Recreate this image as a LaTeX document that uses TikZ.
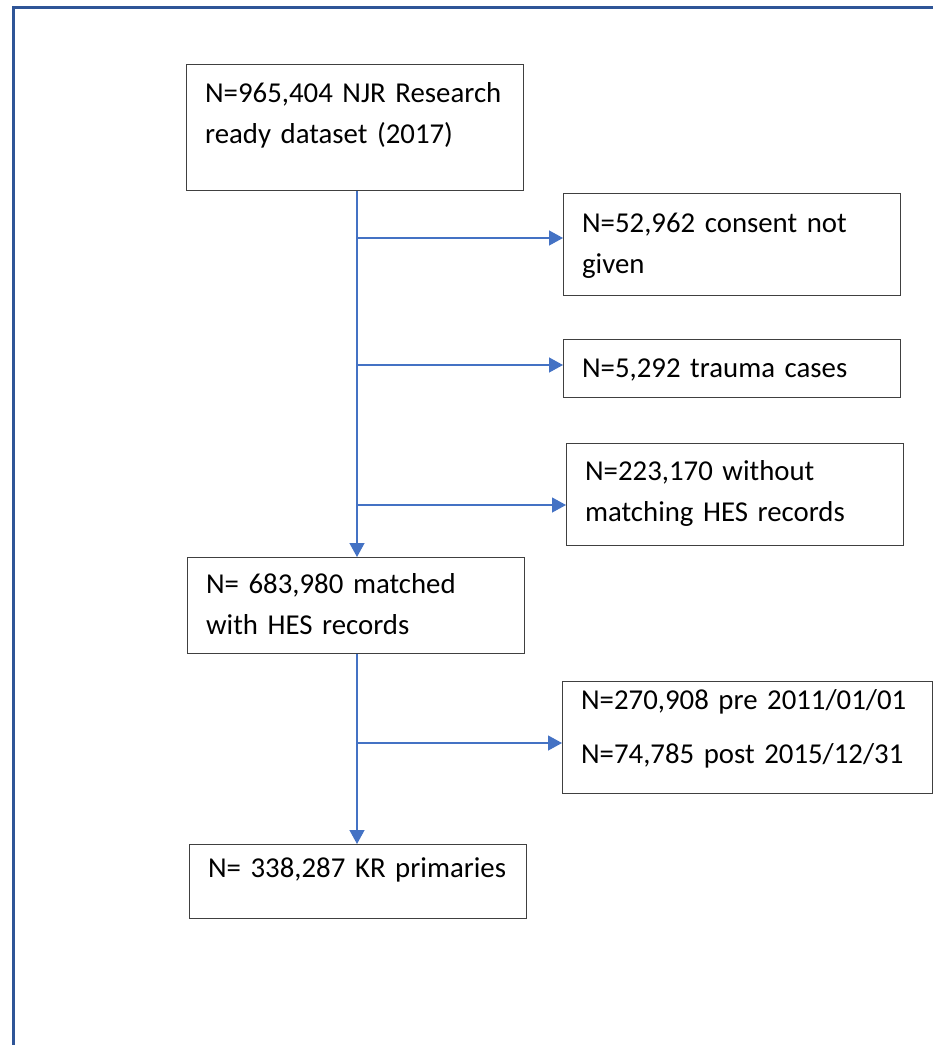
\documentclass[tikz,border=0pt]{standalone}
\usepackage{fontspec}
\setmainfont{Carlito}
\usetikzlibrary{arrows.meta,positioning}
\definecolor{njrblue}{HTML}{4472C4}
\definecolor{frameblue}{HTML}{2F5597}
\definecolor{boxgray}{HTML}{404040}

\begin{document}
\begin{tikzpicture}[
    x=1pt,y=-1pt,
    every node/.style={font=\fontsize{28.8pt}{41pt}\selectfont},
    box/.style={rectangle,draw=boxgray,line width=1.2pt,anchor=north west,align=left,text width=300pt,inner xsep=18.5pt,inner ysep=0pt,text height=38pt},
    arr/.style={-{Triangle[length=14pt,width=15pt]},line width=1.3pt,color=njrblue}
  ]
    \useasboundingbox (0,0) rectangle (933,1045);
    \draw[frameblue,line width=3pt] (933,7.5) -- (13.5,7.5) -- (13.5,1045);

    \node[box,text height=38pt,text depth=88pt] (njr) at (186,64) {N=965,404 NJR Research\\ready dataset (2017)};
    \node[box,text height=39pt,text depth=63pt] (consent) at (563,193) {N=52,962 consent not\\given};
    \node[box,text depth=20pt] (trauma) at (563,339) {N=5,292 trauma cases};
    \node[box,text height=37pt,text depth=65pt] (nohes) at (566,443) {N=223,170 without\\matching HES records};
    \node[box,text height=36pt,text depth=60pt] (matched) at (187,557) {N= 683,980 matched\\with HES records};
    \node[box,text width=333pt,text height=28pt,text depth=84pt] (dates) at (562,681) {N=270,908 pre 2011/01/01\\[13pt]N=74,785 post 2015/12/31};
    \node[box,text height=33pt,text depth=41pt] (kr) at (189,844) {N= 338,287 KR primaries};

    \coordinate (j1) at (357,238);
    \coordinate (j2) at (357,365);
    \coordinate (j3) at (357,505);
    \coordinate (j4) at (357,743);

    \draw[arr] (njr.south -| j1) -- (matched.north -| j1);
    \draw[arr] (j1) -- (j1 -| consent.west);
    \draw[arr] (j2) -- (j2 -| trauma.west);
    \draw[arr] (j3) -- (j3 -| nohes.west);
    \draw[arr] (matched.south -| j4) -- (kr.north -| j4);
    \draw[arr] (j4) -- (j4 -| dates.west);
  \end{tikzpicture}
\end{document}
